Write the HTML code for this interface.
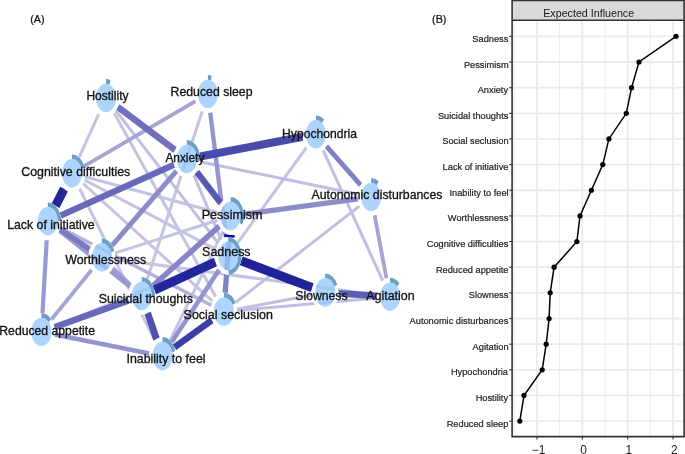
<!DOCTYPE html>
<html><head><meta charset="utf-8"><style>
html,body{margin:0;padding:0;background:#fff;}
svg{display:block;will-change:transform;font-family:"Liberation Sans",sans-serif;}
</style></head><body>
<svg width="685" height="454" viewBox="0 0 685 454">
<rect width="685" height="454" fill="#fff"/>
<text transform="translate(30.2,22.6) scale(0.93,1)" font-size="11.6" fill="#111" stroke="#111" stroke-width="0.25">(A)</text>
<text transform="translate(432.1,22.6) scale(0.93,1)" font-size="11.6" fill="#111" stroke="#111" stroke-width="0.25">(B)</text>
<g font-size="12.4" fill="#111">
<g>
<line x1="98.8" y1="113.9" x2="79.1" y2="157.4" stroke="#C3C3E4" stroke-width="3.00"/>
<line x1="114.2" y1="112.9" x2="215.7" y2="296.7" stroke="#C3C3E4" stroke-width="3.00"/>
<line x1="202.3" y1="111.0" x2="147.3" y2="278.8" stroke="#C3C3E4" stroke-width="3.00"/>
<line x1="85.0" y1="176.8" x2="217.5" y2="212.5" stroke="#C3C3E4" stroke-width="3.00"/>
<line x1="84.4" y1="179.9" x2="215.7" y2="249.4" stroke="#C3C3E4" stroke-width="3.00"/>
<line x1="83.1" y1="183.5" x2="212.7" y2="301.4" stroke="#C3C3E4" stroke-width="3.00"/>
<line x1="79.6" y1="188.7" x2="154.8" y2="340.6" stroke="#C3C3E4" stroke-width="3.00"/>
<line x1="306.4" y1="147.5" x2="237.7" y2="242.8" stroke="#C3C3E4" stroke-width="3.00"/>
<line x1="114.8" y1="253.1" x2="217.6" y2="220.2" stroke="#C3C3E4" stroke-width="3.00"/>
<line x1="115.0" y1="259.1" x2="376.8" y2="294.9" stroke="#C3C3E4" stroke-width="3.00"/>
<line x1="54.2" y1="326.7" x2="215.4" y2="261.2" stroke="#C3C3E4" stroke-width="3.00"/>
<line x1="170.1" y1="340.5" x2="223.0" y2="231.5" stroke="#C3C3E4" stroke-width="3.00"/>
<line x1="115.8" y1="110.7" x2="218.4" y2="243.3" stroke="#BFBFE2" stroke-width="3.00"/>
<line x1="200.1" y1="161.7" x2="357.9" y2="194.3" stroke="#BFBFE2" stroke-width="3.00"/>
<line x1="193.8" y1="175.2" x2="221.3" y2="239.8" stroke="#BFBFE2" stroke-width="3.00"/>
<line x1="323.1" y1="150.1" x2="382.8" y2="280.9" stroke="#BFBFE2" stroke-width="3.00"/>
<line x1="235.6" y1="302.5" x2="359.4" y2="206.1" stroke="#BFBFE2" stroke-width="3.00"/>
<line x1="237.1" y1="309.1" x2="312.0" y2="295.0" stroke="#BFBFE2" stroke-width="3.00"/>
<line x1="237.2" y1="310.4" x2="376.7" y2="297.9" stroke="#BFBFE2" stroke-width="3.00"/>
<line x1="60.3" y1="227.7" x2="211.4" y2="305.2" stroke="#B2B2DC" stroke-width="3.50"/>
<line x1="195.6" y1="101.1" x2="84.2" y2="166.1" stroke="#A3A3D5" stroke-width="3.80"/>
<line x1="91.8" y1="269.7" x2="51.4" y2="319.5" stroke="#A3A3D5" stroke-width="3.80"/>
<line x1="374.6" y1="215.2" x2="386.5" y2="278.5" stroke="#A3A3D5" stroke-width="3.80"/>
<line x1="112.8" y1="267.9" x2="130.7" y2="285.3" stroke="#9E9ED3" stroke-width="4.00"/>
<line x1="59.4" y1="230.5" x2="130.1" y2="286.7" stroke="#9999D1" stroke-width="4.50"/>
<line x1="46.7" y1="240.1" x2="42.5" y2="313.1" stroke="#9999D1" stroke-width="4.20"/>
<line x1="54.6" y1="334.5" x2="149.3" y2="353.4" stroke="#9494CE" stroke-width="4.60"/>
<line x1="171.6" y1="342.2" x2="219.1" y2="269.8" stroke="#9494CE" stroke-width="4.60"/>
<line x1="210.2" y1="112.5" x2="225.9" y2="237.4" stroke="#9494CE" stroke-width="4.40"/>
<line x1="176.6" y1="170.9" x2="112.1" y2="245.4" stroke="#8C8CCB" stroke-width="5.00"/>
<line x1="243.8" y1="214.2" x2="357.9" y2="198.8" stroke="#8C8CCB" stroke-width="5.20"/>
<line x1="152.9" y1="285.8" x2="219.4" y2="226.1" stroke="#8585C7" stroke-width="5.50"/>
<line x1="326.3" y1="146.1" x2="360.7" y2="185.2" stroke="#8080C5" stroke-width="4.80"/>
<line x1="229.3" y1="234.8" x2="225.2" y2="292.8" stroke="#8080C5" stroke-width="5.20"/>
<line x1="59.8" y1="229.3" x2="89.8" y2="249.3" stroke="#7A7AC3" stroke-width="5.50"/>
<line x1="117.7" y1="106.9" x2="175.2" y2="150.1" stroke="#6F6FBD" stroke-width="6.40"/>
<line x1="60.5" y1="215.6" x2="174.2" y2="164.7" stroke="#6969BB" stroke-width="6.30"/>
<line x1="128.8" y1="300.5" x2="54.3" y2="327.3" stroke="#6969BB" stroke-width="6.50"/>
<line x1="338.5" y1="293.4" x2="376.7" y2="295.8" stroke="#5E5EB6" stroke-width="6.80"/>
<line x1="196.7" y1="171.8" x2="220.8" y2="203.2" stroke="#5959B4" stroke-width="6.30"/>
<line x1="147.6" y1="312.8" x2="156.6" y2="339.1" stroke="#4F4FAF" stroke-width="6.80"/>
<line x1="200.1" y1="156.5" x2="302.7" y2="136.8" stroke="#4A4AAD" stroke-width="8.00"/>
<line x1="212.0" y1="320.2" x2="174.4" y2="347.4" stroke="#3D3DA7" stroke-width="6.60"/>
<line x1="64.2" y1="188.7" x2="55.5" y2="205.9" stroke="#26269C" stroke-width="9.00"/>
<line x1="215.6" y1="261.8" x2="154.3" y2="290.1" stroke="#26269C" stroke-width="9.00"/>
<line x1="241.1" y1="260.8" x2="312.3" y2="287.7" stroke="#21219A" stroke-width="9.20"/>
<line x1="229.5" y1="234.8" x2="229.3" y2="237.2" stroke="#0A0A90" stroke-width="10.50"/>
</g>
<path d="M92.70,98 A13.30,18.89 0 1 0 119.30,98 A13.30,18.89 0 1 0 92.70,98 Z M96.00,98 A10.00,14.20 0 1 0 116.00,98 A10.00,14.20 0 1 0 96.00,98 Z" fill="#fff" fill-rule="evenodd"/><path d="M106,79.11 A13.30,18.89 0 0 1 110.55,80.25 L109.42,84.66 A10.00,14.20 0 0 0 106,83.80 Z" fill="#6E9DC6"/><ellipse cx="106" cy="98" rx="10.0" ry="14.2" fill="#97C9FB" fill-opacity="0.8"/>
<path d="M194.60,93.9 A13.30,18.89 0 1 0 221.20,93.9 A13.30,18.89 0 1 0 194.60,93.9 Z M197.90,93.9 A10.00,14.20 0 1 0 217.90,93.9 A10.00,14.20 0 1 0 197.90,93.9 Z" fill="#fff" fill-rule="evenodd"/><path d="M207.9,75.01 A13.30,18.89 0 0 1 211.79,75.84 L210.82,80.32 A10.00,14.20 0 0 0 207.9,79.70 Z" fill="#6E9DC6"/><ellipse cx="207.9" cy="93.9" rx="10.0" ry="14.2" fill="#97C9FB" fill-opacity="0.8"/>
<path d="M173.60,159 A13.30,18.89 0 1 0 200.20,159 A13.30,18.89 0 1 0 173.60,159 Z M176.90,159 A10.00,14.20 0 1 0 196.90,159 A10.00,14.20 0 1 0 176.90,159 Z" fill="#fff" fill-rule="evenodd"/><path d="M186.9,140.11 A13.30,18.89 0 0 1 200.13,160.97 L196.85,160.48 A10.00,14.20 0 0 0 186.9,144.80 Z" fill="#6E9DC6"/><ellipse cx="186.9" cy="159" rx="10.0" ry="14.2" fill="#97C9FB" fill-opacity="0.8"/>
<path d="M302.60,134.3 A13.30,18.89 0 1 0 329.20,134.3 A13.30,18.89 0 1 0 302.60,134.3 Z M305.90,134.3 A10.00,14.20 0 1 0 325.90,134.3 A10.00,14.20 0 1 0 305.90,134.3 Z" fill="#fff" fill-rule="evenodd"/><path d="M315.9,115.41 A13.30,18.89 0 0 1 324.09,119.42 L322.06,123.11 A10.00,14.20 0 0 0 315.9,120.10 Z" fill="#6E9DC6"/><ellipse cx="315.9" cy="134.3" rx="10.0" ry="14.2" fill="#97C9FB" fill-opacity="0.8"/>
<path d="M58.60,173.3 A13.30,18.89 0 1 0 85.20,173.3 A13.30,18.89 0 1 0 58.60,173.3 Z M61.90,173.3 A10.00,14.20 0 1 0 81.90,173.3 A10.00,14.20 0 1 0 61.90,173.3 Z" fill="#fff" fill-rule="evenodd"/><path d="M71.9,154.41 A13.30,18.89 0 0 1 84.40,166.84 L81.30,168.44 A10.00,14.20 0 0 0 71.9,159.10 Z" fill="#6E9DC6"/><ellipse cx="71.9" cy="173.3" rx="10.0" ry="14.2" fill="#97C9FB" fill-opacity="0.8"/>
<path d="M357.80,197 A13.30,18.89 0 1 0 384.40,197 A13.30,18.89 0 1 0 357.80,197 Z M361.10,197 A10.00,14.20 0 1 0 381.10,197 A10.00,14.20 0 1 0 361.10,197 Z" fill="#fff" fill-rule="evenodd"/><path d="M371.1,178.11 A13.30,18.89 0 0 1 378.54,181.34 L376.69,185.23 A10.00,14.20 0 0 0 371.1,182.80 Z" fill="#6E9DC6"/><ellipse cx="371.1" cy="197" rx="10.0" ry="14.2" fill="#97C9FB" fill-opacity="0.8"/>
<path d="M217.30,216.0 A13.30,18.89 0 1 0 243.90,216.0 A13.30,18.89 0 1 0 217.30,216.0 Z M220.60,216.0 A10.00,14.20 0 1 0 240.60,216.0 A10.00,14.20 0 1 0 220.60,216.0 Z" fill="#fff" fill-rule="evenodd"/><path d="M230.6,197.11 A13.30,18.89 0 0 1 242.34,224.87 L239.43,222.67 A10.00,14.20 0 0 0 230.6,201.80 Z" fill="#6E9DC6"/><ellipse cx="230.6" cy="216.0" rx="10.0" ry="14.2" fill="#97C9FB" fill-opacity="0.8"/>
<path d="M34.50,221.3 A13.30,18.89 0 1 0 61.10,221.3 A13.30,18.89 0 1 0 34.50,221.3 Z M37.80,221.3 A10.00,14.20 0 1 0 57.80,221.3 A10.00,14.20 0 1 0 37.80,221.3 Z" fill="#fff" fill-rule="evenodd"/><path d="M47.8,202.41 A13.30,18.89 0 0 1 61.10,221.30 L57.80,221.30 A10.00,14.20 0 0 0 47.8,207.10 Z" fill="#6E9DC6"/><ellipse cx="47.8" cy="221.3" rx="10.0" ry="14.2" fill="#97C9FB" fill-opacity="0.8"/>
<path d="M214.90,256 A13.30,18.89 0 1 0 241.50,256 A13.30,18.89 0 1 0 214.90,256 Z M218.20,256 A10.00,14.20 0 1 0 238.20,256 A10.00,14.20 0 1 0 218.20,256 Z" fill="#fff" fill-rule="evenodd"/><path d="M228.2,237.11 A13.30,18.89 0 0 1 228.66,274.87 L228.55,270.19 A10.00,14.20 0 0 0 228.2,241.80 Z" fill="#6E9DC6"/><ellipse cx="228.2" cy="256" rx="10.0" ry="14.2" fill="#97C9FB" fill-opacity="0.8"/>
<path d="M88.50,257.3 A13.30,18.89 0 1 0 115.10,257.3 A13.30,18.89 0 1 0 88.50,257.3 Z M91.80,257.3 A10.00,14.20 0 1 0 111.80,257.3 A10.00,14.20 0 1 0 91.80,257.3 Z" fill="#fff" fill-rule="evenodd"/><path d="M101.8,238.41 A13.30,18.89 0 0 1 114.30,250.84 L111.20,252.44 A10.00,14.20 0 0 0 101.8,243.10 Z" fill="#6E9DC6"/><ellipse cx="101.8" cy="257.3" rx="10.0" ry="14.2" fill="#97C9FB" fill-opacity="0.8"/>
<path d="M311.90,292.5 A13.30,18.89 0 1 0 338.50,292.5 A13.30,18.89 0 1 0 311.90,292.5 Z M315.20,292.5 A10.00,14.20 0 1 0 335.20,292.5 A10.00,14.20 0 1 0 315.20,292.5 Z" fill="#fff" fill-rule="evenodd"/><path d="M325.2,273.61 A13.30,18.89 0 0 1 337.25,284.52 L334.26,286.50 A10.00,14.20 0 0 0 325.2,278.30 Z" fill="#6E9DC6"/><ellipse cx="325.2" cy="292.5" rx="10.0" ry="14.2" fill="#97C9FB" fill-opacity="0.8"/>
<path d="M376.70,296.7 A13.30,18.89 0 1 0 403.30,296.7 A13.30,18.89 0 1 0 376.70,296.7 Z M380.00,296.7 A10.00,14.20 0 1 0 400.00,296.7 A10.00,14.20 0 1 0 380.00,296.7 Z" fill="#fff" fill-rule="evenodd"/><path d="M390,277.81 A13.30,18.89 0 0 1 399.40,283.35 L397.07,286.66 A10.00,14.20 0 0 0 390,282.50 Z" fill="#6E9DC6"/><ellipse cx="390" cy="296.7" rx="10.0" ry="14.2" fill="#97C9FB" fill-opacity="0.8"/>
<path d="M128.40,295.9 A13.30,18.89 0 1 0 155.00,295.9 A13.30,18.89 0 1 0 128.40,295.9 Z M131.70,295.9 A10.00,14.20 0 1 0 151.70,295.9 A10.00,14.20 0 1 0 131.70,295.9 Z" fill="#fff" fill-rule="evenodd"/><path d="M141.7,277.01 A13.30,18.89 0 0 1 154.98,296.89 L151.69,296.64 A10.00,14.20 0 0 0 141.7,281.70 Z" fill="#6E9DC6"/><ellipse cx="141.7" cy="295.9" rx="10.0" ry="14.2" fill="#97C9FB" fill-opacity="0.8"/>
<path d="M210.60,311.6 A13.30,18.89 0 1 0 237.20,311.6 A13.30,18.89 0 1 0 210.60,311.6 Z M213.90,311.6 A10.00,14.20 0 1 0 233.90,311.6 A10.00,14.20 0 1 0 213.90,311.6 Z" fill="#fff" fill-rule="evenodd"/><path d="M223.9,292.71 A13.30,18.89 0 0 1 235.64,302.73 L232.73,304.93 A10.00,14.20 0 0 0 223.9,297.40 Z" fill="#6E9DC6"/><ellipse cx="223.9" cy="311.6" rx="10.0" ry="14.2" fill="#97C9FB" fill-opacity="0.8"/>
<path d="M28.10,331.9 A13.30,18.89 0 1 0 54.70,331.9 A13.30,18.89 0 1 0 28.10,331.9 Z M31.40,331.9 A10.00,14.20 0 1 0 51.40,331.9 A10.00,14.20 0 1 0 31.40,331.9 Z" fill="#fff" fill-rule="evenodd"/><path d="M41.4,313.01 A13.30,18.89 0 0 1 51.13,319.02 L48.71,322.22 A10.00,14.20 0 0 0 41.4,317.70 Z" fill="#6E9DC6"/><ellipse cx="41.4" cy="331.9" rx="10.0" ry="14.2" fill="#97C9FB" fill-opacity="0.8"/>
<path d="M149.20,356 A13.30,18.89 0 1 0 175.80,356 A13.30,18.89 0 1 0 149.20,356 Z M152.50,356 A10.00,14.20 0 1 0 172.50,356 A10.00,14.20 0 1 0 152.50,356 Z" fill="#fff" fill-rule="evenodd"/><path d="M162.5,337.11 A13.30,18.89 0 0 1 175.35,351.11 L172.16,352.32 A10.00,14.20 0 0 0 162.5,341.80 Z" fill="#6E9DC6"/><ellipse cx="162.5" cy="356" rx="10.0" ry="14.2" fill="#97C9FB" fill-opacity="0.8"/>
<text x="86.39" y="100.00" font-size="12.04" stroke="#111" stroke-width="0.3">Hostility</text>
<text x="170.57" y="95.90" font-size="12.29" stroke="#111" stroke-width="0.3">Reduced sleep</text>
<text x="165.38" y="162.20" font-size="11.90" stroke="#111" stroke-width="0.3">Anxiety</text>
<text x="282.08" y="137.70" font-size="12.13" stroke="#111" stroke-width="0.3">Hypochondria</text>
<text x="21.23" y="175.70" font-size="12.36" stroke="#111" stroke-width="0.3">Cognitive difficulties</text>
<text x="311.49" y="199.20" font-size="12.28" stroke="#111" stroke-width="0.3">Autonomic disturbances</text>
<text x="201.68" y="218.80" font-size="12.60" stroke="#111" stroke-width="0.3">Pessimism</text>
<text x="7.17" y="228.80" font-size="12.30" stroke="#111" stroke-width="0.3">Lack of initiative</text>
<text x="202.09" y="255.80" font-size="12.47" stroke="#111" stroke-width="0.3">Sadness</text>
<text x="65.19" y="264.30" font-size="12.40" stroke="#111" stroke-width="0.3">Worthlessness</text>
<text x="295.30" y="299.80" font-size="12.21" stroke="#111" stroke-width="0.3">Slowness</text>
<text x="366.19" y="300.00" font-size="12.46" stroke="#111" stroke-width="0.3">Agitation</text>
<text x="98.69" y="302.80" font-size="12.36" stroke="#111" stroke-width="0.3">Suicidal thoughts</text>
<text x="183.59" y="318.70" font-size="12.46" stroke="#111" stroke-width="0.3">Social seclusion</text>
<text x="-0.73" y="334.80" font-size="12.21" stroke="#111" stroke-width="0.3">Reduced appetite</text>
<text x="126.54" y="363.30" font-size="12.37" stroke="#111" stroke-width="0.3">Inability to feel</text>
</g>
<rect x="512" y="20" width="172" height="416.5" fill="#fff"/>
<line x1="514.2" y1="20" x2="514.2" y2="436.5" stroke="#EDEDED" stroke-width="1.0"/>
<line x1="559.6" y1="20" x2="559.6" y2="436.5" stroke="#EDEDED" stroke-width="1.0"/>
<line x1="605.0" y1="20" x2="605.0" y2="436.5" stroke="#EDEDED" stroke-width="1.0"/>
<line x1="650.4" y1="20" x2="650.4" y2="436.5" stroke="#EDEDED" stroke-width="1.0"/>
<line x1="512" y1="36.35" x2="684" y2="36.35" stroke="#EBEBEB" stroke-width="1.8"/>
<line x1="512" y1="62.00" x2="684" y2="62.00" stroke="#EBEBEB" stroke-width="1.8"/>
<line x1="512" y1="87.65" x2="684" y2="87.65" stroke="#EBEBEB" stroke-width="1.8"/>
<line x1="512" y1="113.30" x2="684" y2="113.30" stroke="#EBEBEB" stroke-width="1.8"/>
<line x1="512" y1="138.95" x2="684" y2="138.95" stroke="#EBEBEB" stroke-width="1.8"/>
<line x1="512" y1="164.60" x2="684" y2="164.60" stroke="#EBEBEB" stroke-width="1.8"/>
<line x1="512" y1="190.25" x2="684" y2="190.25" stroke="#EBEBEB" stroke-width="1.8"/>
<line x1="512" y1="215.90" x2="684" y2="215.90" stroke="#EBEBEB" stroke-width="1.8"/>
<line x1="512" y1="241.55" x2="684" y2="241.55" stroke="#EBEBEB" stroke-width="1.8"/>
<line x1="512" y1="267.20" x2="684" y2="267.20" stroke="#EBEBEB" stroke-width="1.8"/>
<line x1="512" y1="292.85" x2="684" y2="292.85" stroke="#EBEBEB" stroke-width="1.8"/>
<line x1="512" y1="318.50" x2="684" y2="318.50" stroke="#EBEBEB" stroke-width="1.8"/>
<line x1="512" y1="344.15" x2="684" y2="344.15" stroke="#EBEBEB" stroke-width="1.8"/>
<line x1="512" y1="369.80" x2="684" y2="369.80" stroke="#EBEBEB" stroke-width="1.8"/>
<line x1="512" y1="395.45" x2="684" y2="395.45" stroke="#EBEBEB" stroke-width="1.8"/>
<line x1="512" y1="421.10" x2="684" y2="421.10" stroke="#EBEBEB" stroke-width="1.8"/>
<line x1="536.9" y1="20" x2="536.9" y2="436.5" stroke="#EBEBEB" stroke-width="1.8"/>
<line x1="582.3" y1="20" x2="582.3" y2="436.5" stroke="#EBEBEB" stroke-width="1.8"/>
<line x1="627.7" y1="20" x2="627.7" y2="436.5" stroke="#EBEBEB" stroke-width="1.8"/>
<line x1="673.1" y1="20" x2="673.1" y2="436.5" stroke="#EBEBEB" stroke-width="1.8"/>
<polyline points="676,36.35 639,62.00 631.6,87.65 626.3,113.30 608.9,138.95 602.8,164.60 591.4,190.25 580,215.90 576.9,241.55 554.1,267.20 550.2,292.85 549.1,318.50 546.2,344.15 542.2,369.80 524,395.45 519.8,421.10" fill="none" stroke="#000" stroke-width="1.5"/>
<circle cx="676" cy="36.35" r="2.6" fill="#000"/>
<circle cx="639" cy="62.00" r="2.6" fill="#000"/>
<circle cx="631.6" cy="87.65" r="2.6" fill="#000"/>
<circle cx="626.3" cy="113.30" r="2.6" fill="#000"/>
<circle cx="608.9" cy="138.95" r="2.6" fill="#000"/>
<circle cx="602.8" cy="164.60" r="2.6" fill="#000"/>
<circle cx="591.4" cy="190.25" r="2.6" fill="#000"/>
<circle cx="580" cy="215.90" r="2.6" fill="#000"/>
<circle cx="576.9" cy="241.55" r="2.6" fill="#000"/>
<circle cx="554.1" cy="267.20" r="2.6" fill="#000"/>
<circle cx="550.2" cy="292.85" r="2.6" fill="#000"/>
<circle cx="549.1" cy="318.50" r="2.6" fill="#000"/>
<circle cx="546.2" cy="344.15" r="2.6" fill="#000"/>
<circle cx="542.2" cy="369.80" r="2.6" fill="#000"/>
<circle cx="524" cy="395.45" r="2.6" fill="#000"/>
<circle cx="519.8" cy="421.10" r="2.6" fill="#000"/>
<rect x="512.1" y="0.4" width="172" height="19.9" fill="#D9D9D9"/>
<path d="M512.1,20.3 V436.6 H684.1 V0.4 H512.1 V20.3 H684.1" fill="none" stroke="#333" stroke-width="1.6"/>
<text x="588.7" y="17.3" text-anchor="middle" font-size="10.7" fill="#1A1A1A">Expected Influence</text>
<line x1="509.2" y1="36.35" x2="512" y2="36.35" stroke="#333" stroke-width="1.1"/>
<text x="472.34" y="41.85" font-size="9.25" fill="#222" stroke="#222" stroke-width="0.2">Sadness</text>
<line x1="509.2" y1="62.00" x2="512" y2="62.00" stroke="#333" stroke-width="1.1"/>
<text x="463.92" y="67.50" font-size="9.25" fill="#222" stroke="#222" stroke-width="0.2">Pessimism</text>
<line x1="509.2" y1="87.65" x2="512" y2="87.65" stroke="#333" stroke-width="1.1"/>
<text x="477.71" y="93.15" font-size="9.25" fill="#222" stroke="#222" stroke-width="0.2">Anxiety</text>
<line x1="509.2" y1="113.30" x2="512" y2="113.30" stroke="#333" stroke-width="1.1"/>
<text x="437.88" y="118.80" font-size="9.25" fill="#222" stroke="#222" stroke-width="0.2">Suicidal thoughts</text>
<line x1="509.2" y1="138.95" x2="512" y2="138.95" stroke="#333" stroke-width="1.1"/>
<text x="442.28" y="144.45" font-size="9.25" fill="#222" stroke="#222" stroke-width="0.2">Social seclusion</text>
<line x1="509.2" y1="164.60" x2="512" y2="164.60" stroke="#333" stroke-width="1.1"/>
<text x="442.60" y="170.10" font-size="9.25" fill="#222" stroke="#222" stroke-width="0.2">Lack of initiative</text>
<line x1="509.2" y1="190.25" x2="512" y2="190.25" stroke="#333" stroke-width="1.1"/>
<text x="449.49" y="195.75" font-size="9.25" fill="#222" stroke="#222" stroke-width="0.2">Inability to feel</text>
<line x1="509.2" y1="215.90" x2="512" y2="215.90" stroke="#333" stroke-width="1.1"/>
<text x="447.83" y="221.40" font-size="9.25" fill="#222" stroke="#222" stroke-width="0.2">Worthlessness</text>
<line x1="509.2" y1="241.55" x2="512" y2="241.55" stroke="#333" stroke-width="1.1"/>
<text x="426.74" y="247.05" font-size="9.25" fill="#222" stroke="#222" stroke-width="0.2">Cognitive difficulties</text>
<line x1="509.2" y1="267.20" x2="512" y2="267.20" stroke="#333" stroke-width="1.1"/>
<text x="435.90" y="272.70" font-size="9.25" fill="#222" stroke="#222" stroke-width="0.2">Reduced appetite</text>
<line x1="509.2" y1="292.85" x2="512" y2="292.85" stroke="#333" stroke-width="1.1"/>
<text x="468.73" y="298.35" font-size="9.25" fill="#222" stroke="#222" stroke-width="0.2">Slowness</text>
<line x1="509.2" y1="318.50" x2="512" y2="318.50" stroke="#333" stroke-width="1.1"/>
<text x="409.58" y="324.00" font-size="9.25" fill="#222" stroke="#222" stroke-width="0.2">Autonomic disturbances</text>
<line x1="509.2" y1="344.15" x2="512" y2="344.15" stroke="#333" stroke-width="1.1"/>
<text x="472.62" y="349.65" font-size="9.25" fill="#222" stroke="#222" stroke-width="0.2">Agitation</text>
<line x1="509.2" y1="369.80" x2="512" y2="369.80" stroke="#333" stroke-width="1.1"/>
<text x="450.93" y="375.30" font-size="9.25" fill="#222" stroke="#222" stroke-width="0.2">Hypochondria</text>
<line x1="509.2" y1="395.45" x2="512" y2="395.45" stroke="#333" stroke-width="1.1"/>
<text x="475.67" y="400.95" font-size="9.25" fill="#222" stroke="#222" stroke-width="0.2">Hostility</text>
<line x1="509.2" y1="421.10" x2="512" y2="421.10" stroke="#333" stroke-width="1.1"/>
<text x="446.67" y="426.60" font-size="9.25" fill="#222" stroke="#222" stroke-width="0.2">Reduced sleep</text>
<line x1="536.9" y1="436.5" x2="536.9" y2="439.4" stroke="#333" stroke-width="1.1"/>
<text x="531.92" y="453.6" font-size="11.9" fill="#222">−1</text>
<line x1="582.3" y1="436.5" x2="582.3" y2="439.4" stroke="#333" stroke-width="1.1"/>
<text x="580.15" y="453.6" font-size="11.9" fill="#222">0</text>
<line x1="627.7" y1="436.5" x2="627.7" y2="439.4" stroke="#333" stroke-width="1.1"/>
<text x="625.45" y="453.6" font-size="11.9" fill="#222">1</text>
<line x1="673.1" y1="436.5" x2="673.1" y2="439.4" stroke="#333" stroke-width="1.1"/>
<text x="671.00" y="453.6" font-size="11.9" fill="#222">2</text>
</svg>
</body></html>
